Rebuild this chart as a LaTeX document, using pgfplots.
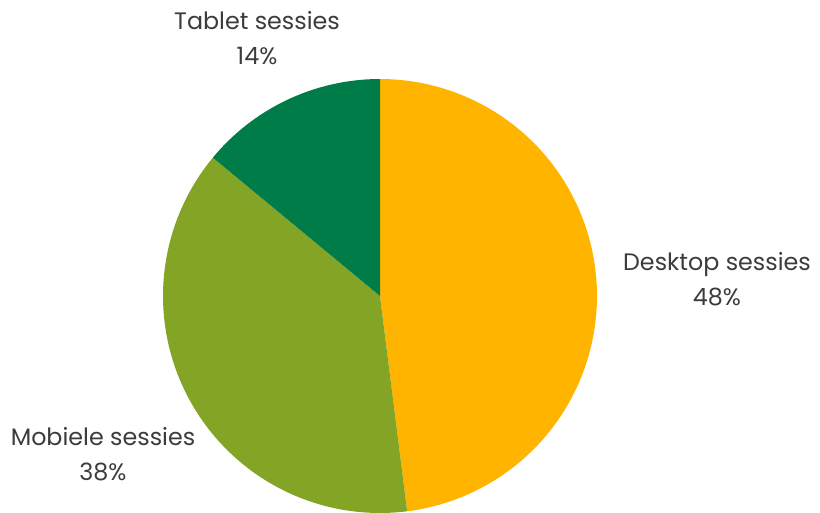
\documentclass[border=0pt]{standalone}
\usepackage{fontspec}
\setmainfont{Poppins}
\usepackage{pgfplots}
\pgfplotsset{compat=1.18}
\usepackage{pgfplotstable}
\definecolor{cDesk}{HTML}{FFB500}
\definecolor{cMob}{HTML}{84A426}
\definecolor{cTab}{HTML}{007C48}
\definecolor{cTxt}{HTML}{3C3C3C}
\pgfplotstableread{
name share
Desktop 48
Mobiele 38
Tablet 14
}\piedata
\begin{document}
\begin{tikzpicture}
\pgfplotstablegetelem{0}{share}\of\piedata \let\sA\pgfplotsretval
\pgfplotstablegetelem{1}{share}\of\piedata \let\sB\pgfplotsretval
\pgfplotstablegetelem{2}{share}\of\piedata \let\sC\pgfplotsretval
\pgfmathsetmacro{\aA}{90}
\pgfmathsetmacro{\aB}{\aA-3.6*\sA}
\pgfmathsetmacro{\aC}{\aB-3.6*\sB}
\pgfmathsetmacro{\aD}{\aC-3.6*\sC}
\begin{axis}[
  width=410pt, height=256pt, scale only axis,
  xmin=0, xmax=820, ymin=0, ymax=512,
  hide axis, clip=false,
]
\path (axis cs:0,0) rectangle (axis cs:820,512);
\addplot[fill=cDesk, draw=none, domain=\aA:\aB, samples=120] ({380+217*cos(x)},{216+217*sin(x)}) -- (axis cs:380,216) -- cycle;
\addplot[fill=cMob, draw=none, domain=\aB:\aC, samples=100] ({380+217*cos(x)},{216+217*sin(x)}) -- (axis cs:380,216) -- cycle;
\addplot[fill=cTab, draw=none, domain=\aC:\aD, samples=40] ({380+217*cos(x)},{216+217*sin(x)}) -- (axis cs:380,216) -- cycle;
\node[align=center, text=cTxt, font=\fontsize{11.9pt}{17.5pt}\selectfont] at (axis cs:257,474) {Tablet sessies\\\sC\%};
\node[align=center, text=cTxt, font=\fontsize{11.9pt}{17.5pt}\selectfont] at (axis cs:717,233) {Desktop sessies\\\sA\%};
\node[align=center, text=cTxt, font=\fontsize{11.9pt}{17.5pt}\selectfont] at (axis cs:103,58) {Mobiele sessies\\\sB\%};
\end{axis}
\end{tikzpicture}
\end{document}
